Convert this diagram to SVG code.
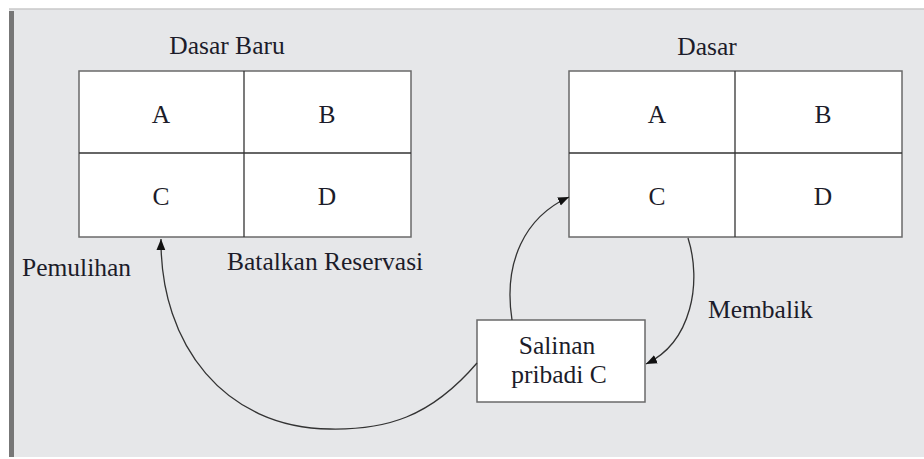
<svg xmlns="http://www.w3.org/2000/svg" width="924" height="459" viewBox="0 0 924 459">
<style>
text{font-family:'Liberation Serif', 'Times New Roman', 'DejaVu Serif', serif;font-size:25.5px;fill:#1c1c2a}
.c{text-anchor:middle}
.cell{fill:#ffffff;stroke:#6a6a6a;stroke-width:1.5}
.div{stroke:#333;stroke-width:1.3}
.conn{fill:none;stroke:#333;stroke-width:1.3;marker-end:url(#ah)}
</style>
<defs>
<marker id="ah" viewBox="0 0 10 10" refX="10" refY="5" markerWidth="11" markerHeight="11" markerUnits="userSpaceOnUse" orient="auto">
<path d="M0,1 L10,5 L0,9 z" fill="#111"/>
</marker>
</defs>
<rect x="0" y="0" width="924" height="459" fill="#ffffff"/>
<rect x="9" y="9" width="915" height="448" fill="#e6e7e9"/>
<line x1="9" y1="9" x2="924" y2="9" stroke="#c8c8c8" stroke-width="1.5"/>
<rect x="9" y="11" width="5" height="446" fill="#777777"/>

<g id="dasar-baru">
<text class="c" x="227" y="54">Dasar Baru</text>
<rect class="cell" x="79" y="71" width="332" height="166"/>
<line class="div" x1="244" y1="71" x2="244" y2="237"/>
<line class="div" x1="79" y1="153" x2="411" y2="153"/>
<text class="c" x="161" y="123">A</text>
<text class="c" x="327" y="123">B</text>
<text class="c" x="161" y="205">C</text>
<text class="c" x="327" y="205">D</text>
</g>

<g id="dasar">
<text class="c" x="707" y="55">Dasar</text>
<rect class="cell" x="569" y="71" width="333" height="166"/>
<line class="div" x1="735" y1="71" x2="735" y2="237"/>
<line class="div" x1="569" y1="153" x2="902" y2="153"/>
<text class="c" x="657" y="123">A</text>
<text class="c" x="823" y="123">B</text>
<text class="c" x="657" y="205">C</text>
<text class="c" x="823" y="205">D</text>
</g>

<g id="salinan">
<rect class="cell" x="477" y="320" width="168" height="82"/>
<text class="c" x="557" y="354">Salinan</text>
<text class="c" x="559" y="383">pribadi C</text>
</g>

<g id="labels">
<text x="22" y="276">Pemulihan</text>
<text x="227" y="270">Batalkan Reservasi</text>
<text x="708" y="318">Membalik</text>
</g>

<g id="connectors">
<path class="conn" d="M477,363 C430,418 385,430 330,429 C225,428 160,345 161,239"/>
<path class="conn" d="M512,320 C503,262 525,217 569,197"/>
<path class="conn" d="M688,238 C702,282 692,342 646,364"/>
</g>
</svg>
